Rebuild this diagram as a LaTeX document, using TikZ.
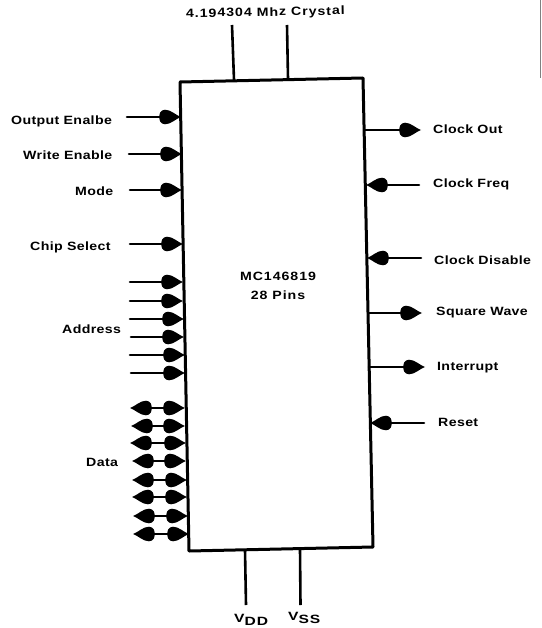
\documentclass[tikz,border=0pt]{standalone}
\usepackage{fontspec}
\setmainfont[LetterSpace=3,FakeStretch=1.18]{Liberation Sans}
\newfontfamily\widefont[LetterSpace=8,FakeStretch=1.18]{Liberation Sans}
\newfontfamily\vfont[LetterSpace=8,FakeStretch=1.3]{Liberation Sans}
\usetikzlibrary{arrows.meta}
\pgfdeclarearrow{
  name=Bulb,
  setup code={
    \pgfarrowssettipend{0pt}
    \pgfarrowssetbackend{-22pt}
    \pgfarrowssetlineend{-17pt}
    \pgfarrowssetvisualbackend{-17pt}
  },
  drawing code={
    \pgfpathmoveto{\pgfpoint{0pt}{0pt}}
    \pgfpathcurveto{\pgfpoint{-5pt}{1.6pt}}{\pgfpoint{-10pt}{7.3pt}}{\pgfpoint{-16pt}{7.3pt}}
    \pgfpathcurveto{\pgfpoint{-18.5pt}{7.3pt}}{\pgfpoint{-20pt}{6pt}}{\pgfpoint{-20.8pt}{4.5pt}}
    \pgfpathcurveto{\pgfpoint{-22pt}{2pt}}{\pgfpoint{-22pt}{-2pt}}{\pgfpoint{-20.8pt}{-4.5pt}}
    \pgfpathcurveto{\pgfpoint{-20pt}{-6pt}}{\pgfpoint{-18.5pt}{-7.3pt}}{\pgfpoint{-16pt}{-7.3pt}}
    \pgfpathcurveto{\pgfpoint{-10pt}{-7.3pt}}{\pgfpoint{-5pt}{-1.6pt}}{\pgfpoint{0pt}{0pt}}
    \pgfpathclose
    \pgfusepathqfill
  }
}
\tikzset{
  x=1pt,y=-1pt,
  pin/.style={line width=2.6pt,line cap=round},
  in head/.style={pin,-{Bulb}},
  bi head/.style={pin,{Bulb}-{Bulb}},
  wire/.style={line width=2.6pt},
  chip/.style={line width=3pt,line join=round},
  lbl/.style={inner sep=0pt,font=\fontsize{12}{13}\selectfont\bfseries},
  plain/.style={inner sep=0pt,font=\fontsize{12}{19}\selectfont\bfseries\widefont,align=center}
}
\begin{document}
\begin{tikzpicture}
\useasboundingbox (0,0) rectangle (541,628);
% chip outline
\coordinate (tl) at (180,82); \coordinate (tr) at (363,78);
\coordinate (br) at (373,547); \coordinate (bl) at (189,551);
\draw[chip] (tl) -- (tr) -- (br) -- (bl) -- cycle;
\node[plain] (name) at (278,286) {MC146819\\28 Pins};
% crystal
\node[lbl,rotate=1,font=\fontsize{12}{13}\selectfont\bfseries\widefont] (xtal) at (265.5,13) {4.194304 Mhz Crystal};
\coordinate (xa) at (232,25); \coordinate (xat) at (234,80);
\coordinate (xb) at (287,25); \coordinate (xbt) at (288,79);
\draw[wire] (xa) -- (xat);
\draw[wire] (xb) -- (xbt);
% supplies
\coordinate (da) at (245,550); \coordinate (db) at (246,605);
\coordinate (sa) at (300,549); \coordinate (sb) at (300.5,605);
\draw[wire] (da) -- (db);
\draw[wire] (sa) -- (sb);
\node[lbl,anchor=west,font=\fontsize{12}{13}\selectfont\bfseries\vfont] (vdd) at (234,620) {V\raisebox{-3pt}{DD}};
\node[lbl,anchor=west,font=\fontsize{12}{13}\selectfont\bfseries\vfont] (vss) at (288,618) {V\raisebox{-3pt}{SS}};
% left control inputs
\foreach \n/\t/\xa/\xb/\y/\lx/\ly in {oe/Output Enalbe/127/181/117/11/121, we/Write Enable/129/182/154/23/155, mo/Mode/130/182/190/75/191, cs/Chip Select/130/183/244/30/247}{
  \node[lbl,anchor=west] (\n l) at (\lx,\ly) {\t};
  \coordinate (\n a) at (\xa,\y); \coordinate (\n b) at (\xb,\y);
  \draw[in head] (\n a) -- (\n b);
}
% address
\node[lbl,anchor=west] (addr) at (62,329) {Address};
\foreach \i/\xa/\xb/\y in {1/130/183/282, 2/130/183/301, 3/130/184/319, 4/131/184/337, 5/130/185/355, 6/131/185/373}{
  \coordinate (a\i a) at (\xa,\y); \coordinate (a\i b) at (\xb,\y);
  \draw[in head] (a\i a) -- (a\i b);
}
% data
\node[lbl,anchor=west] (data) at (86,462) {Data};
\foreach \i/\xa/\xb/\y in {1/130/185/408, 2/131/185/426, 3/130/186/443, 4/132/186/461, 5/132/187/480, 6/132/187/497, 7/133/188/516, 8/133/189/534}{
  \coordinate (d\i a) at (\xa,\y); \coordinate (d\i b) at (\xb,\y);
  \draw[bi head] (d\i a) -- (d\i b);
}
% right side
\foreach \n/\t/\xa/\xb/\y/\lx/\ly in {co/Clock Out/365/421/130/433/129, so/Square Wave/368/422/313/436/313, ir/Interrupt/369/425/367/437/368}{
  \node[lbl,anchor=west] (\n l) at (\lx,\ly) {\t};
  \coordinate (\n a) at (\xa,\y); \coordinate (\n b) at (\xb,\y);
  \draw[in head] (\n a) -- (\n b);
}
\foreach \n/\t/\xa/\xb/\y/\lx/\ly in {cf/Clock Freq/366/419/185/433/184, cd/Clock Disable/367/421/258/434/260, rs/Reset/370/424/423/438/422}{
  \node[lbl,anchor=west] (\n l) at (\lx,\ly) {\t};
  \coordinate (\n a) at (\xb,\y); \coordinate (\n b) at (\xa,\y);
  \draw[in head] (\n a) -- (\n b);
}
% scan edge mark
\coordinate (e1) at (540.5,0); \coordinate (e2) at (540.5,78);
\draw[gray,line width=1pt] (e1) -- (e2);
\end{tikzpicture}
\end{document}
